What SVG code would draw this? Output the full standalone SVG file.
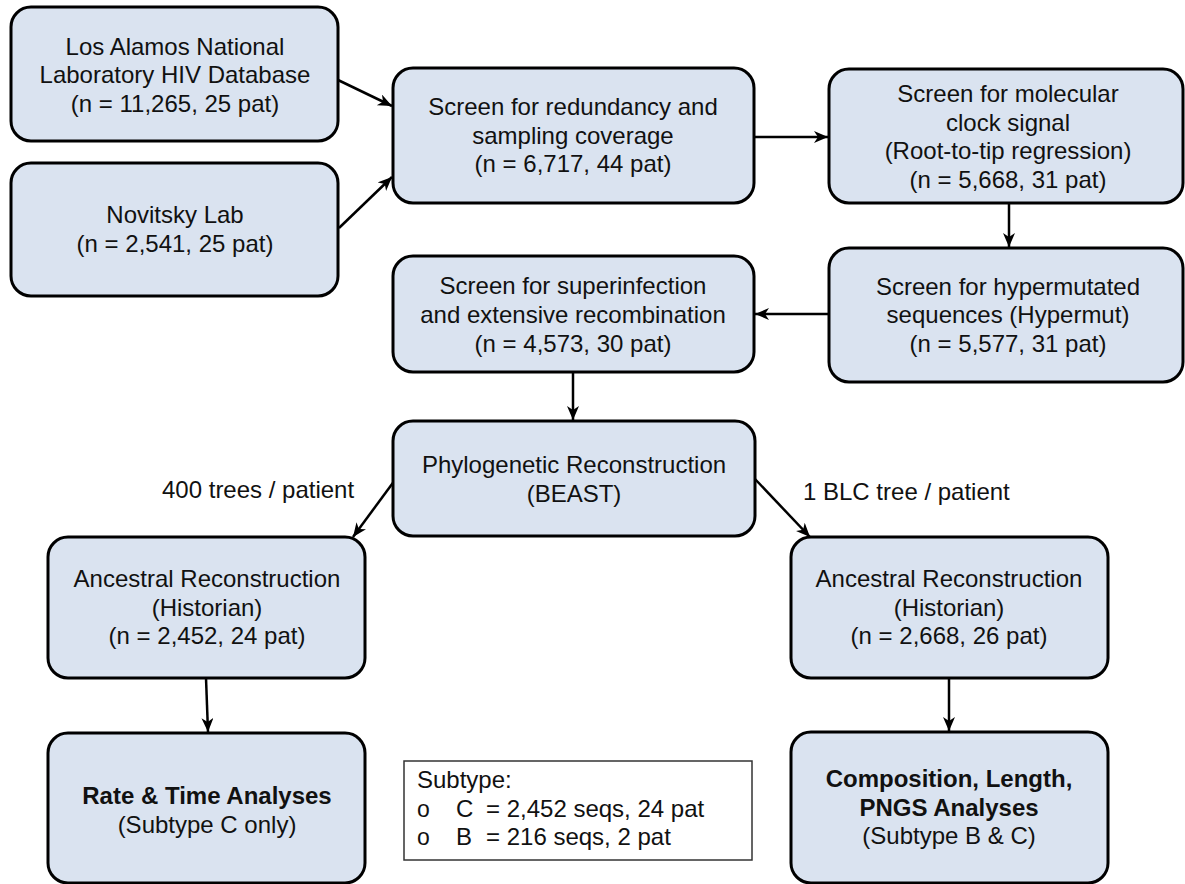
<svg xmlns="http://www.w3.org/2000/svg" width="1185" height="884" viewBox="0 0 1185 884">
<defs>
<marker id="arr" markerUnits="userSpaceOnUse" markerWidth="16" markerHeight="14" refX="14" refY="6" orient="auto">
<path d="M0,0 L14,6 L0,12 L4,6 Z" fill="#000"/>
</marker>
<style>
.box{fill:#dae3f0;stroke:#000;stroke-width:3}
.t{font-family:"Liberation Sans",Arial,sans-serif;font-size:24px;fill:#111;text-anchor:middle}
.b{font-weight:bold}
.l{font-family:"Liberation Sans",Arial,sans-serif;font-size:24px;fill:#111}
.o{font-family:"Liberation Sans",Arial,sans-serif;font-size:23px;fill:#111;font-weight:300}
.c{stroke:#000;stroke-width:2.5;fill:none;marker-end:url(#arr)}
</style>
</defs>
<rect width="1185" height="884" fill="#fff"/>
<g id="connectors">
<line class="c" x1="338" y1="80" x2="392" y2="106"/>
<line class="c" x1="339" y1="228" x2="392" y2="177"/>
<line class="c" x1="754" y1="137" x2="828" y2="137"/>
<line class="c" x1="1009" y1="203" x2="1009" y2="247"/>
<line class="c" x1="829" y1="314" x2="755" y2="314"/>
<line class="c" x1="573" y1="372" x2="573" y2="420"/>
<line class="c" x1="395" y1="480" x2="353" y2="537"/>
<line class="c" x1="755" y1="479" x2="810" y2="537"/>
<line class="c" x1="206" y1="678" x2="208" y2="732"/>
<line class="c" x1="949" y1="678" x2="949" y2="731"/>
</g>
<g id="lanl">
<rect class="box" x="11" y="7" width="327" height="134" rx="20"/>
<text class="t" x="175" y="55">Los Alamos National</text>
<text class="t" x="175" y="83">Laboratory HIV Database</text>
<text class="t" x="175" y="112">(n = 11,265, 25 pat)</text>
</g>
<g id="novitsky">
<rect class="box" x="11" y="163" width="327" height="133" rx="20"/>
<text class="t" x="175" y="223">Novitsky Lab</text>
<text class="t" x="175" y="252">(n = 2,541, 25 pat)</text>
</g>
<g id="redundancy">
<rect class="box" x="393" y="68" width="361" height="135" rx="20"/>
<text class="t" x="573" y="115">Screen for redundancy and</text>
<text class="t" x="573" y="144">sampling coverage</text>
<text class="t" x="573" y="172">(n = 6,717, 44 pat)</text>
</g>
<g id="clock">
<rect class="box" x="829" y="69" width="354" height="134" rx="20"/>
<text class="t" x="1008" y="102">Screen for molecular</text>
<text class="t" x="1008" y="131">clock signal</text>
<text class="t" x="1008" y="159">(Root-to-tip regression)</text>
<text class="t" x="1008" y="188">(n = 5,668, 31 pat)</text>
</g>
<g id="hypermut">
<rect class="box" x="829" y="248" width="354" height="134" rx="20"/>
<text class="t" x="1008" y="295">Screen for hypermutated</text>
<text class="t" x="1008" y="323">sequences (Hypermut)</text>
<text class="t" x="1008" y="352">(n = 5,577, 31 pat)</text>
</g>
<g id="superinfection">
<rect class="box" x="393" y="256" width="361" height="116" rx="20"/>
<text class="t" x="573" y="294">Screen for superinfection</text>
<text class="t" x="573" y="323">and extensive recombination</text>
<text class="t" x="573" y="352">(n = 4,573, 30 pat)</text>
</g>
<g id="phylo">
<rect class="box" x="393" y="421" width="362" height="115" rx="20"/>
<text class="t" x="574" y="473">Phylogenetic Reconstruction</text>
<text class="t" x="574" y="502">(BEAST)</text>
</g>
<g id="label-left">
<text class="l" x="162" y="498">400 trees / patient</text>
</g>
<g id="label-right">
<text class="l" x="803" y="500">1 BLC tree / patient</text>
</g>
<g id="ancestral-left">
<rect class="box" x="48" y="537" width="317" height="141" rx="20"/>
<text class="t" x="207" y="587">Ancestral Reconstruction</text>
<text class="t" x="207" y="616">(Historian)</text>
<text class="t" x="207" y="644">(n = 2,452, 24 pat)</text>
</g>
<g id="rate-time">
<rect class="box" x="48" y="733" width="317" height="150" rx="20"/>
<text class="t b" x="207" y="804">Rate &amp; Time Analyses</text>
<text class="t" x="207" y="833">(Subtype C only)</text>
</g>
<g id="ancestral-right">
<rect class="box" x="791" y="537" width="317" height="141" rx="20"/>
<text class="t" x="949" y="587">Ancestral Reconstruction</text>
<text class="t" x="949" y="616">(Historian)</text>
<text class="t" x="949" y="644">(n = 2,668, 26 pat)</text>
</g>
<g id="composition">
<rect class="box" x="791" y="732" width="317" height="151" rx="20"/>
<text class="t b" x="949" y="787">Composition, Length,</text>
<text class="t b" x="949" y="816">PNGS Analyses</text>
<text class="t" x="949" y="844">(Subtype B &amp; C)</text>
</g>
<g id="legend">
<rect x="404" y="761" width="348" height="99" fill="#fff" stroke="#333" stroke-width="1.5"/>
<text class="l" x="417" y="788">Subtype:</text>
<text class="o" x="417" y="817">o</text>
<text class="l" x="456" y="817">C</text>
<text class="l" x="486" y="817">= 2,452 seqs, 24 pat</text>
<text class="o" x="417" y="845">o</text>
<text class="l" x="456" y="845">B</text>
<text class="l" x="486" y="845">= 216 seqs, 2 pat</text>
</g>
</svg>
